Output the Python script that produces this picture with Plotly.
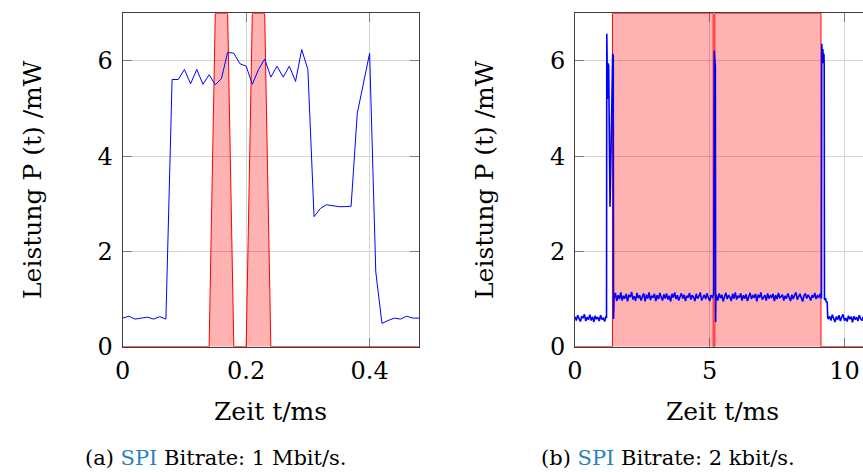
import numpy as np
import plotly.graph_objects as go

# ---------------- (a) SPI 1 Mbit/s ----------------
t_a = [0.00, 0.01, 0.02, 0.03, 0.04, 0.05, 0.06, 0.07, 0.08, 0.09,
       0.10, 0.11, 0.12, 0.13, 0.14, 0.15, 0.16, 0.17, 0.18, 0.19,
       0.20, 0.21, 0.22, 0.23, 0.24, 0.25, 0.26, 0.27, 0.28, 0.29,
       0.30, 0.31, 0.32, 0.33, 0.34, 0.35, 0.36, 0.37, 0.38, 0.39,
       0.40, 0.41, 0.42, 0.43, 0.44, 0.45, 0.46, 0.47, 0.48]
p_a = [0.60, 0.64, 0.58, 0.60, 0.62, 0.58, 0.63, 0.58, 5.61, 5.61,
       5.82, 5.52, 5.82, 5.51, 5.71, 5.50, 5.63, 6.18, 6.16, 5.94,
       5.89, 5.51, 5.82, 6.04, 5.66, 5.89, 5.66, 5.89, 5.57, 6.24,
       5.82, 2.73, 2.90, 2.98, 2.96, 2.94, 2.94, 2.95, 4.90, 5.52,
       6.16, 1.57, 0.49, 0.55, 0.60, 0.58, 0.64, 0.60, 0.60]

# transfer windows (SPI activity marker)
win_t_a = [0.00, 0.14, 0.15, 0.17, 0.18, 0.20, 0.21, 0.23, 0.24, 0.48]
win_v_a = [0, 0, 7, 7, 0, 0, 7, 7, 0, 0]

# ---------------- (b) SPI 2 kbit/s ----------------
idle_pre = [0.63, 0.55, 0.66, 0.58, 0.53, 0.64, 0.60, 0.68, 0.54, 0.62,
            0.57, 0.67, 0.55, 0.63, 0.52, 0.65, 0.58, 0.62, 0.54, 0.66,
            0.57, 0.61, 0.53, 0.64]
idle_pre_t = np.linspace(0.00, 1.15, len(idle_pre))

burst1_t = [1.17, 1.18, 1.19, 1.20, 1.21, 1.22, 1.25, 1.30, 1.35, 1.40, 1.41, 1.42, 1.43]
burst1_p = [0.60, 6.57, 5.95, 6.00, 5.20, 5.95, 5.90, 2.94, 4.60, 6.15, 6.00, 6.10, 0.58]

active1 = [1.02, 1.13, 0.96, 1.08, 1.00, 1.14, 0.97, 1.07, 1.01, 1.11,
           0.95, 1.09, 1.04, 1.15, 0.99, 1.06, 0.96, 1.13, 1.02, 1.08,
           0.97, 1.05, 1.12, 0.95, 1.09, 1.01, 1.14, 0.98, 1.07, 1.03,
           1.11, 0.96, 1.08, 1.00, 1.13, 1.04, 0.97, 1.10, 1.01, 1.12,
           0.99, 1.07, 0.95, 1.11, 1.03, 1.14, 1.00, 1.08, 0.97, 1.05,
           1.12, 1.01, 1.09, 0.96, 1.07, 1.03, 1.13, 0.99, 1.08, 1.04,
           0.96, 1.11, 1.01, 1.06, 1.14, 0.97, 1.05, 1.09, 1.00, 1.12,
           1.03, 0.96, 1.08, 1.04, 1.10]
active1_t = np.linspace(1.45, 5.15, len(active1))

burst2_t = [5.17, 5.19, 5.21, 5.22, 5.23]
burst2_p = [6.22, 6.00, 5.90, 0.52, 1.06]

active2 = [1.07, 0.97, 1.12, 1.02, 1.09, 0.95, 1.05, 1.13, 1.00, 1.08,
           1.04, 0.96, 1.11, 1.01, 1.14, 0.99, 1.07, 1.03, 1.12, 0.97,
           1.08, 1.01, 1.10, 0.96, 1.05, 1.13, 1.00, 1.07, 1.04, 1.11,
           0.95, 1.09, 1.03, 1.14, 0.99, 1.05, 1.08, 0.97, 1.12, 1.01,
           1.07, 1.04, 1.11, 0.96, 1.08, 1.00, 1.13, 1.03, 1.05, 1.09,
           0.97, 1.07, 1.01, 1.12, 1.04, 0.96, 1.09, 1.00, 1.08, 1.14,
           0.99, 1.05, 1.11, 1.03, 0.95, 1.07, 1.12, 1.01, 1.09, 1.04,
           0.97, 1.08, 1.03, 1.13, 1.00, 1.07, 1.04, 1.11, 1.01]
active2_t = np.linspace(5.25, 9.15, len(active2))

burst3_t = [9.16, 9.18, 9.20, 9.22, 9.24, 9.25, 9.26, 9.30, 9.33, 9.36, 9.38, 9.40]
burst3_p = [6.36, 6.10, 6.25, 5.95, 6.15, 5.90, 0.98, 1.02, 0.93, 0.95, 0.62, 0.58]

idle_post = [0.64, 0.55, 0.67, 0.58, 0.52, 0.63, 0.57, 0.66, 0.54, 0.62,
             0.68, 0.55, 0.60, 0.53, 0.65, 0.58, 0.63, 0.51, 0.64, 0.57,
             0.62, 0.54, 0.66, 0.59, 0.55, 0.63]
idle_post_t = np.linspace(9.45, 10.70, len(idle_post))

t_b = np.concatenate([idle_pre_t, burst1_t, active1_t, burst2_t, active2_t, burst3_t, idle_post_t])
p_b = np.concatenate([idle_pre, burst1_p, active1, burst2_p, active2, burst3_p, idle_post])

win_t_b = [0.00, 1.39, 1.39, 5.13, 5.13, 5.19, 5.19, 9.13, 9.13, 10.70]
win_v_b = [0, 0, 7, 7, 0, 0, 7, 7, 0, 0]

# ---------------- figure ----------------
W, H = 863, 472
FONT = "DejaVu Serif"
fill_red = "rgba(255,0,0,0.3)"

fig = go.Figure()
fig.add_trace(go.Scatter(x=win_t_a, y=win_v_a, mode="lines", fill="tozeroy",
                         fillcolor=fill_red, line=dict(color="red", width=1),
                         xaxis="x", yaxis="y", hoverinfo="skip"))
fig.add_trace(go.Scatter(x=t_a, y=p_a, mode="lines",
                         line=dict(color="blue", width=1), xaxis="x", yaxis="y"))
fig.add_trace(go.Scatter(x=win_t_b, y=win_v_b, mode="lines", fill="tozeroy",
                         fillcolor=fill_red, line=dict(color="red", width=1),
                         xaxis="x2", yaxis="y2", hoverinfo="skip"))
fig.add_trace(go.Scatter(x=t_b, y=p_b, mode="lines",
                         line=dict(color="blue", width=1.6), xaxis="x2", yaxis="y2"))

ydom = [1 - 346.7 / H, 1 - 13.3 / H]
common = dict(showgrid=True, gridcolor="#d4d4d4", gridwidth=1, zeroline=False,
              showline=True, linecolor="#404040", linewidth=1,
              ticks="inside", ticklen=9, tickwidth=1, tickcolor="#7f7f7f",
              layer="below traces", automargin=False,
              tickfont=dict(family=FONT, size=24, color="black"))

fig.update_layout(
    width=W, height=H, margin=dict(l=0, r=0, t=0, b=0, autoexpand=False),
    paper_bgcolor="white", plot_bgcolor="white", showlegend=False,
    xaxis=dict(domain=[122.7 / W, 419 / W], range=[0, 0.48], mirror="ticks",
               tickvals=[0, 0.2, 0.4], ticktext=["0", "0.2", "0.4"],
               ticklabelstandoff=2, **common),
    yaxis=dict(domain=ydom, range=[0, 7], mirror="ticks",
               tickvals=[0, 2, 4, 6], ticklabelstandoff=4, **common),
    xaxis2=dict(domain=[575 / W, 1.0], range=[0, 10.69], mirror="ticks",
                anchor="y2", tickvals=[0, 5, 10], ticklabelstandoff=2, **common),
    yaxis2=dict(domain=ydom, range=[0, 7], mirror=False, anchor="x2",
                tickvals=[0, 2, 4, 6], ticklabelstandoff=4, **common),
)

def label(text, x, y, size, angle=0):
    fig.add_annotation(text=text, xref="paper", yref="paper",
                       x=x / W, y=1 - y / H, xanchor="center", yanchor="middle",
                       showarrow=False, textangle=angle,
                       font=dict(family=FONT, size=size, color="black"))

label("Leistung P (t) /mW", 32, 180, 25, -90)
label("Leistung P (t) /mW", 484, 180, 25, -90)
label("Zeit t/ms", 270, 411, 25)
label("Zeit t/ms", 722, 411, 25)
label("(a) <span style='color:#2a7fc0'>SPI</span> Bitrate: 1 Mbit/s.", 216, 458, 21)
label("(b) <span style='color:#2a7fc0'>SPI</span> Bitrate: 2 kbit/s.", 668, 458, 21)

fig.write_html("out.html")
